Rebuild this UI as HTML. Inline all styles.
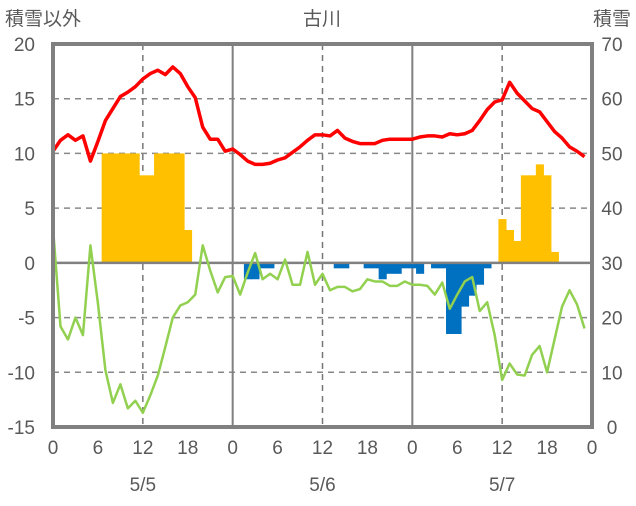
<!DOCTYPE html>
<html><head><meta charset="utf-8">
<style>
html,body{margin:0;padding:0;background:#fff;}
svg text{font-family:"Liberation Sans Narrow","Liberation Sans","Noto Sans CJK JP",sans-serif;fill:#595959;font-size:19px;}
</style></head>
<body>
<svg id="chart" width="636" height="501" viewBox="0 0 636 501" xmlns="http://www.w3.org/2000/svg">
<g id="grid"></g>
<g id="bars"></g>
<g id="lines"></g>
<g id="frame"></g>
<g id="labels"></g>
<text x="5" y="25">積雪以外</text>
<text x="322" y="25" text-anchor="middle">古川</text>
<text x="631" y="25" text-anchor="end">積雪</text>
</svg>
<script>
const redTemp=[10.2,11.2,11.7,11.2,11.6,9.3,11.1,13.0,14.1,15.2,15.6,16.1,16.8,17.3,17.6,17.2,17.9,17.3,16.1,15.1,12.4,11.3,11.3,10.2,10.4,9.9,9.3,9.0,9.0,9.1,9.4,9.6,10.1,10.6,11.2,11.7,11.7,11.6,12.1,11.4,11.1,10.9,10.9,10.9,11.2,11.3,11.3,11.3,11.3,11.5,11.6,11.6,11.5,11.8,11.7,11.8,12.1,13.0,14.0,14.7,14.9,16.5,15.5,14.8,14.1,13.8,12.9,12.0,11.4,10.6,10.2,9.7];
const greenSeries=[3.2,-5.8,-7.0,-5.0,-6.6,1.6,-3.7,-9.8,-12.8,-11.1,-13.3,-12.6,-13.7,-12.1,-10.3,-7.7,-5.0,-3.9,-3.6,-2.9,1.6,-0.7,-2.7,-1.3,-1.2,-2.9,-0.9,0.9,-1.5,-1.0,-1.5,0.3,-2.0,-2.0,1.0,-2.0,-1.0,-2.5,-2.2,-2.2,-2.6,-2.4,-1.5,-1.7,-1.7,-2.1,-2.1,-1.7,-2.0,-2.0,-2.1,-2.9,-1.8,-4.2,-2.9,-1.7,-1.3,-4.4,-3.6,-6.6,-10.7,-9.2,-10.2,-10.3,-8.4,-7.6,-10.0,-7.0,-4.0,-2.5,-3.8,-6.0];
const barHours=[7,8,9,10,11,12,13,14,15,16,17,18,26,27,28,29,38,39,42,43,44,45,46,47,48,49,51,52,53,54,55,56,57,58,60,61,62,63,64,65,66,67];
const barValues=[10,10,10,10,10,8,8,10,10,10,10,3,-1.5,-1.5,-0.5,-0.5,-0.5,-0.5,-0.5,-0.5,-1.5,-1,-1,-0.5,-0.5,-1,-0.5,-0.5,-6.5,-6.5,-4,-3,-2,-0.5,4,3,2,8,8,9,8,1];
const leftTicks=[-15,-10,-5,0,5,10,15,20];
const rightTicks=[0,10,20,30,40,50,60,70];
const hourTicks=[0,6,12,18,24,30,36,42,48,54,60,66,72];
const hourLabels=["0","6","12","18","0","6","12","18","0","6","12","18","0"];
const dateLabels=["5/5","5/6","5/7"];

const X0=53,X1=592,Y0=44,Y1=427;
const x=h=>X0+(X1-X0)*h/72;
const y=v=>Y1-(v+15)/35*(Y1-Y0);
const yR=v=>Y1-v/70*(Y1-Y0);
const NS="http://www.w3.org/2000/svg";
function mk(tag,parent,attrs){const e=document.createElementNS(NS,tag);for(const k in attrs)e.setAttribute(k,attrs[k]);parent.appendChild(e);return e;}
const grid=document.getElementById('grid'),bars=document.getElementById('bars'),lines=document.getElementById('lines'),frame=document.getElementById('frame'),labels=document.getElementById('labels');

leftTicks.forEach(v=>{
  if(v===0||v===-15||v===20)return;
  const l=mk('line',grid,{x1:X0,x2:X1,y1:y(v),y2:y(v),stroke:'#888','stroke-width':1.5,'stroke-dasharray':'6,5'});
  
  
});
[12,36,60].forEach(h=>{
  const l=mk('line',grid,{x1:x(h),x2:x(h),y1:Y0,y2:Y1,stroke:'#777','stroke-width':1.5,'stroke-dasharray':'6,5'});
  
  
});
[24,48].forEach(h=>{
  const l=mk('line',grid,{x1:x(h),x2:x(h),y1:Y0,y2:Y1,stroke:'#808080','stroke-width':2});
  
  
});

barHours.forEach((h,i)=>{
  const v=barValues[i];
  const top=Math.min(y(v),y(0)),hgt=Math.abs(y(v)-y(0));
  const r=mk('rect',bars,{x:x(h-0.5),y:top,width:x(1)-x(0)+0.6,height:hgt,fill:v>0?'#FFC000':'#0070C0'});
  
  
});

const zl=mk('line',grid,{x1:X0,x2:X1,y1:y(0),y2:y(0),stroke:'#808080','stroke-width':2.5});


lines.appendChild(zl);

const g=mk('polyline',lines,{points:greenSeries.map((v,i)=>x(i)+','+y(v)).join(' '),fill:'none',stroke:'#92D050','stroke-width':2.5,'stroke-linejoin':'round'});


const r=mk('polyline',lines,{points:redTemp.map((v,i)=>x(i)+','+y(v)).join(' '),fill:'none',stroke:'#FF0000','stroke-width':3.5,'stroke-linejoin':'round'});



const fr=mk('rect',frame,{x:X0,y:Y0,width:X1-X0,height:Y1-Y0,fill:'none',stroke:'#808080','stroke-width':4});



leftTicks.forEach(v=>{
  const t=mk('text',labels,{x:35,y:y(v)+7,'text-anchor':'end'});
  t.textContent=v;
  
  
});
rightTicks.forEach(v=>{
  const t=mk('text',labels,{x:612,y:yR(v)+7,'text-anchor':'middle'});
  t.textContent=v;
  
  
});
hourTicks.forEach((h,i)=>{
  const t=mk('text',labels,{x:x(h),y:454,'text-anchor':'middle'});
  t.textContent=hourLabels[i];
  
  
});
dateLabels.forEach((d,i)=>{
  const t=mk('text',labels,{x:x(12+24*i),y:491,'text-anchor':'middle'});
  t.textContent=d;
  
  
});
</script>
</body></html>
